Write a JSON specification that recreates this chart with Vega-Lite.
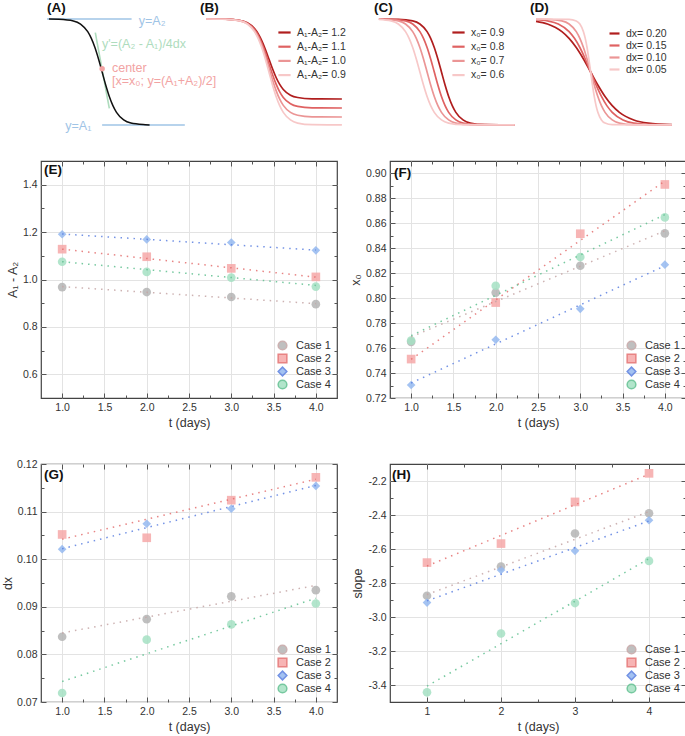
{
 "$schema": "https://vega.github.io/schema/vega-lite/v6.json",
 "padding": {"left": 0, "top": 0, "right": 0, "bottom": 0},
 "config": {
  "font": "Liberation Sans",
  "axis": {"labelFont": "Liberation Sans", "titleFont": "Liberation Sans", "labelFontSize": 10.5, "titleFontSize": 12.5, "titleFontWeight": "normal", "labelColor": "#333", "titleColor": "#333", "tickColor": "#555", "tickSize": -5, "labelPadding": 9, "domain": false, "gridColor": "#e3e3e3", "titlePadding": 4},
  "legend": {"labelFont": "Liberation Sans", "labelFontSize": 11, "labelColor": "#333", "padding": 0},
  "view": {"stroke": "#444", "strokeWidth": 1.2},
  "text": {"font": "Liberation Sans"}
 },
 "datasets": {
  "curves": [
   {"p":"A","s":"A","x":0.11,"y":1},{"p":"A","s":"A","x":0.25,"y":0.9975},{"p":"A","s":"A","x":0.45,"y":0.982},{"p":"A","s":"A","x":0.55,"y":0.9526},{"p":"A","s":"A","x":0.65,"y":0.8808},{"p":"A","s":"A","x":0.70,"y":0.8176},{"p":"A","s":"A","x":0.75,"y":0.7311},{"p":"A","s":"A","x":0.80,"y":0.6225},{"p":"A","s":"A","x":0.85,"y":0.5},{"p":"A","s":"A","x":0.90,"y":0.3775},{"p":"A","s":"A","x":0.95,"y":0.2689},{"p":"A","s":"A","x":1.0,"y":0.1824},{"p":"A","s":"A","x":1.05,"y":0.1192},{"p":"A","s":"A","x":1.15,"y":0.0474},{"p":"A","s":"A","x":1.25,"y":0.018},{"p":"A","s":"A","x":1.45,"y":0.0025},{"p":"A","s":"A","x":1.51,"y":0},

   {"p":"B","s":"1.2","x":0,"y":1},{"p":"B","s":"1.2","x":0.275,"y":0.998},{"p":"B","s":"1.2","x":0.475,"y":0.986},{"p":"B","s":"1.2","x":0.575,"y":0.964},{"p":"B","s":"1.2","x":0.675,"y":0.910},{"p":"B","s":"1.2","x":0.725,"y":0.862},{"p":"B","s":"1.2","x":0.775,"y":0.797},{"p":"B","s":"1.2","x":0.825,"y":0.715},{"p":"B","s":"1.2","x":0.875,"y":0.6225},{"p":"B","s":"1.2","x":0.925,"y":0.530},{"p":"B","s":"1.2","x":0.975,"y":0.448},{"p":"B","s":"1.2","x":1.025,"y":0.383},{"p":"B","s":"1.2","x":1.075,"y":0.335},{"p":"B","s":"1.2","x":1.175,"y":0.281},{"p":"B","s":"1.2","x":1.275,"y":0.259},{"p":"B","s":"1.2","x":1.475,"y":0.247},{"p":"B","s":"1.2","x":1.89,"y":0.245},
   {"p":"B","s":"1.1","x":0,"y":1},{"p":"B","s":"1.1","x":0.275,"y":0.998},{"p":"B","s":"1.1","x":0.475,"y":0.985},{"p":"B","s":"1.1","x":0.575,"y":0.960},{"p":"B","s":"1.1","x":0.675,"y":0.900},{"p":"B","s":"1.1","x":0.725,"y":0.847},{"p":"B","s":"1.1","x":0.775,"y":0.774},{"p":"B","s":"1.1","x":0.825,"y":0.683},{"p":"B","s":"1.1","x":0.875,"y":0.58},{"p":"B","s":"1.1","x":0.925,"y":0.477},{"p":"B","s":"1.1","x":0.975,"y":0.386},{"p":"B","s":"1.1","x":1.025,"y":0.313},{"p":"B","s":"1.1","x":1.075,"y":0.260},{"p":"B","s":"1.1","x":1.175,"y":0.200},{"p":"B","s":"1.1","x":1.275,"y":0.175},{"p":"B","s":"1.1","x":1.475,"y":0.162},{"p":"B","s":"1.1","x":1.89,"y":0.16},
   {"p":"B","s":"1.0","x":0,"y":1},{"p":"B","s":"1.0","x":0.275,"y":0.998},{"p":"B","s":"1.0","x":0.475,"y":0.983},{"p":"B","s":"1.0","x":0.575,"y":0.956},{"p":"B","s":"1.0","x":0.675,"y":0.890},{"p":"B","s":"1.0","x":0.725,"y":0.831},{"p":"B","s":"1.0","x":0.775,"y":0.751},{"p":"B","s":"1.0","x":0.825,"y":0.651},{"p":"B","s":"1.0","x":0.875,"y":0.5375},{"p":"B","s":"1.0","x":0.925,"y":0.424},{"p":"B","s":"1.0","x":0.975,"y":0.324},{"p":"B","s":"1.0","x":1.025,"y":0.244},{"p":"B","s":"1.0","x":1.075,"y":0.185},{"p":"B","s":"1.0","x":1.175,"y":0.119},{"p":"B","s":"1.0","x":1.275,"y":0.092},{"p":"B","s":"1.0","x":1.475,"y":0.077},{"p":"B","s":"1.0","x":1.89,"y":0.075},
   {"p":"B","s":"0.9","x":0,"y":1},{"p":"B","s":"0.9","x":0.275,"y":0.9975},{"p":"B","s":"0.9","x":0.475,"y":0.982},{"p":"B","s":"0.9","x":0.575,"y":0.9526},{"p":"B","s":"0.9","x":0.675,"y":0.8808},{"p":"B","s":"0.9","x":0.725,"y":0.8176},{"p":"B","s":"0.9","x":0.775,"y":0.7311},{"p":"B","s":"0.9","x":0.825,"y":0.6225},{"p":"B","s":"0.9","x":0.875,"y":0.5},{"p":"B","s":"0.9","x":0.925,"y":0.3775},{"p":"B","s":"0.9","x":0.975,"y":0.2689},{"p":"B","s":"0.9","x":1.025,"y":0.1824},{"p":"B","s":"0.9","x":1.075,"y":0.1192},{"p":"B","s":"0.9","x":1.175,"y":0.0474},{"p":"B","s":"0.9","x":1.275,"y":0.018},{"p":"B","s":"0.9","x":1.475,"y":0.0025},{"p":"B","s":"0.9","x":1.89,"y":0},

   {"p":"C","s":"0.9","x":0.03,"y":1},{"p":"C","s":"0.9","x":0.3,"y":0.9975},{"p":"C","s":"0.9","x":0.5,"y":0.982},{"p":"C","s":"0.9","x":0.6,"y":0.9526},{"p":"C","s":"0.9","x":0.7,"y":0.8808},{"p":"C","s":"0.9","x":0.75,"y":0.8176},{"p":"C","s":"0.9","x":0.8,"y":0.7311},{"p":"C","s":"0.9","x":0.85,"y":0.6225},{"p":"C","s":"0.9","x":0.9,"y":0.5},{"p":"C","s":"0.9","x":0.95,"y":0.3775},{"p":"C","s":"0.9","x":1.0,"y":0.2689},{"p":"C","s":"0.9","x":1.05,"y":0.1824},{"p":"C","s":"0.9","x":1.1,"y":0.1192},{"p":"C","s":"0.9","x":1.2,"y":0.0474},{"p":"C","s":"0.9","x":1.3,"y":0.018},{"p":"C","s":"0.9","x":1.5,"y":0.0025},{"p":"C","s":"0.9","x":1.92,"y":0},
   {"p":"C","s":"0.8","x":0.03,"y":1},{"p":"C","s":"0.8","x":0.2,"y":0.9975},{"p":"C","s":"0.8","x":0.4,"y":0.982},{"p":"C","s":"0.8","x":0.5,"y":0.9526},{"p":"C","s":"0.8","x":0.6,"y":0.8808},{"p":"C","s":"0.8","x":0.65,"y":0.8176},{"p":"C","s":"0.8","x":0.7,"y":0.7311},{"p":"C","s":"0.8","x":0.75,"y":0.6225},{"p":"C","s":"0.8","x":0.8,"y":0.5},{"p":"C","s":"0.8","x":0.85,"y":0.3775},{"p":"C","s":"0.8","x":0.9,"y":0.2689},{"p":"C","s":"0.8","x":0.95,"y":0.1824},{"p":"C","s":"0.8","x":1.0,"y":0.1192},{"p":"C","s":"0.8","x":1.1,"y":0.0474},{"p":"C","s":"0.8","x":1.2,"y":0.018},{"p":"C","s":"0.8","x":1.4,"y":0.0025},{"p":"C","s":"0.8","x":1.92,"y":0},
   {"p":"C","s":"0.7","x":0.03,"y":1},{"p":"C","s":"0.7","x":0.1,"y":0.9975},{"p":"C","s":"0.7","x":0.3,"y":0.982},{"p":"C","s":"0.7","x":0.4,"y":0.9526},{"p":"C","s":"0.7","x":0.5,"y":0.8808},{"p":"C","s":"0.7","x":0.55,"y":0.8176},{"p":"C","s":"0.7","x":0.6,"y":0.7311},{"p":"C","s":"0.7","x":0.65,"y":0.6225},{"p":"C","s":"0.7","x":0.7,"y":0.5},{"p":"C","s":"0.7","x":0.75,"y":0.3775},{"p":"C","s":"0.7","x":0.8,"y":0.2689},{"p":"C","s":"0.7","x":0.85,"y":0.1824},{"p":"C","s":"0.7","x":0.9,"y":0.1192},{"p":"C","s":"0.7","x":1.0,"y":0.0474},{"p":"C","s":"0.7","x":1.1,"y":0.018},{"p":"C","s":"0.7","x":1.3,"y":0.0025},{"p":"C","s":"0.7","x":1.92,"y":0},
   {"p":"C","s":"0.6","x":0.03,"y":0.997},{"p":"C","s":"0.6","x":0.2,"y":0.982},{"p":"C","s":"0.6","x":0.3,"y":0.9526},{"p":"C","s":"0.6","x":0.4,"y":0.8808},{"p":"C","s":"0.6","x":0.45,"y":0.8176},{"p":"C","s":"0.6","x":0.5,"y":0.7311},{"p":"C","s":"0.6","x":0.55,"y":0.6225},{"p":"C","s":"0.6","x":0.6,"y":0.5},{"p":"C","s":"0.6","x":0.65,"y":0.3775},{"p":"C","s":"0.6","x":0.7,"y":0.2689},{"p":"C","s":"0.6","x":0.75,"y":0.1824},{"p":"C","s":"0.6","x":0.8,"y":0.1192},{"p":"C","s":"0.6","x":0.9,"y":0.0474},{"p":"C","s":"0.6","x":1.0,"y":0.018},{"p":"C","s":"0.6","x":1.2,"y":0.0025},{"p":"C","s":"0.6","x":1.92,"y":0},

   {"p":"D","s":"0.20","x":0,"y":0.978},{"p":"D","s":"0.20","x":0.16,"y":0.9526},{"p":"D","s":"0.20","x":0.36,"y":0.8808},{"p":"D","s":"0.20","x":0.46,"y":0.8176},{"p":"D","s":"0.20","x":0.56,"y":0.7311},{"p":"D","s":"0.20","x":0.66,"y":0.6225},{"p":"D","s":"0.20","x":0.76,"y":0.5},{"p":"D","s":"0.20","x":0.86,"y":0.3775},{"p":"D","s":"0.20","x":0.96,"y":0.2689},{"p":"D","s":"0.20","x":1.06,"y":0.1824},{"p":"D","s":"0.20","x":1.16,"y":0.1192},{"p":"D","s":"0.20","x":1.36,"y":0.0474},{"p":"D","s":"0.20","x":1.56,"y":0.018},{"p":"D","s":"0.20","x":1.89,"y":0.0035},
   {"p":"D","s":"0.15","x":0,"y":0.9938},{"p":"D","s":"0.15","x":0.16,"y":0.982},{"p":"D","s":"0.15","x":0.31,"y":0.9526},{"p":"D","s":"0.15","x":0.46,"y":0.8808},{"p":"D","s":"0.15","x":0.535,"y":0.8176},{"p":"D","s":"0.15","x":0.61,"y":0.7311},{"p":"D","s":"0.15","x":0.685,"y":0.6225},{"p":"D","s":"0.15","x":0.76,"y":0.5},{"p":"D","s":"0.15","x":0.835,"y":0.3775},{"p":"D","s":"0.15","x":0.91,"y":0.2689},{"p":"D","s":"0.15","x":0.985,"y":0.1824},{"p":"D","s":"0.15","x":1.06,"y":0.1192},{"p":"D","s":"0.15","x":1.21,"y":0.0474},{"p":"D","s":"0.15","x":1.36,"y":0.018},{"p":"D","s":"0.15","x":1.66,"y":0.0025},{"p":"D","s":"0.15","x":1.89,"y":0.0006},
   {"p":"D","s":"0.10","x":0,"y":1},{"p":"D","s":"0.10","x":0.16,"y":0.9975},{"p":"D","s":"0.10","x":0.36,"y":0.982},{"p":"D","s":"0.10","x":0.46,"y":0.9526},{"p":"D","s":"0.10","x":0.56,"y":0.8808},{"p":"D","s":"0.10","x":0.61,"y":0.8176},{"p":"D","s":"0.10","x":0.66,"y":0.7311},{"p":"D","s":"0.10","x":0.71,"y":0.6225},{"p":"D","s":"0.10","x":0.76,"y":0.5},{"p":"D","s":"0.10","x":0.81,"y":0.3775},{"p":"D","s":"0.10","x":0.86,"y":0.2689},{"p":"D","s":"0.10","x":0.91,"y":0.1824},{"p":"D","s":"0.10","x":0.96,"y":0.1192},{"p":"D","s":"0.10","x":1.06,"y":0.0474},{"p":"D","s":"0.10","x":1.16,"y":0.018},{"p":"D","s":"0.10","x":1.36,"y":0.0025},{"p":"D","s":"0.10","x":1.89,"y":0},
   {"p":"D","s":"0.05","x":0,"y":1},{"p":"D","s":"0.05","x":0.46,"y":0.9975},{"p":"D","s":"0.05","x":0.56,"y":0.982},{"p":"D","s":"0.05","x":0.61,"y":0.9526},{"p":"D","s":"0.05","x":0.66,"y":0.8808},{"p":"D","s":"0.05","x":0.685,"y":0.8176},{"p":"D","s":"0.05","x":0.71,"y":0.7311},{"p":"D","s":"0.05","x":0.735,"y":0.6225},{"p":"D","s":"0.05","x":0.76,"y":0.5},{"p":"D","s":"0.05","x":0.785,"y":0.3775},{"p":"D","s":"0.05","x":0.81,"y":0.2689},{"p":"D","s":"0.05","x":0.835,"y":0.1824},{"p":"D","s":"0.05","x":0.86,"y":0.1192},{"p":"D","s":"0.05","x":0.91,"y":0.0474},{"p":"D","s":"0.05","x":0.96,"y":0.018},{"p":"D","s":"0.05","x":1.06,"y":0.0025},{"p":"D","s":"0.05","x":1.89,"y":0}
  ],
  "aLines": [
   {"g":"blue","k":"top","x":0.083,"y":1},{"g":"blue","k":"top","x":1.26,"y":1},
   {"g":"blue","k":"bot","x":0.85,"y":0},{"g":"blue","k":"bot","x":2.0,"y":0},
   {"g":"green","k":"tan","x":0.755,"y":0.871},{"g":"green","k":"tan","x":0.95,"y":0.157}
  ],
  "aTexts": [
   {"g":"blue","x":1.36,"y":0.981,"t":"y=A₂"},
   {"g":"blue","x":0.338,"y":-0.01,"t":"y=A₁"},
   {"g":"green","x":0.848,"y":0.764,"t":"y'=(A₂ - A₁)/4dx"},
   {"g":"pink","x":0.987,"y":0.538,"t":"center"},
   {"g":"pink","x":0.987,"y":0.415,"t":"[x=x₀; y=(A₁+A₂)/2]"}
  ],
  "pts": [
   {"p":"E","t":1,"v":0.968,"c":"Case 1"},{"p":"E","t":2,"v":0.947,"c":"Case 1"},{"p":"E","t":3,"v":0.926,"c":"Case 1"},{"p":"E","t":4,"v":0.896,"c":"Case 1"},
   {"p":"E","t":1,"v":1.128,"c":"Case 2"},{"p":"E","t":2,"v":1.096,"c":"Case 2"},{"p":"E","t":3,"v":1.047,"c":"Case 2"},{"p":"E","t":4,"v":1.011,"c":"Case 2"},
   {"p":"E","t":1,"v":1.191,"c":"Case 3"},{"p":"E","t":2,"v":1.169,"c":"Case 3"},{"p":"E","t":3,"v":1.156,"c":"Case 3"},{"p":"E","t":4,"v":1.123,"c":"Case 3"},
   {"p":"E","t":1,"v":1.075,"c":"Case 4"},{"p":"E","t":2,"v":1.032,"c":"Case 4"},{"p":"E","t":3,"v":1.008,"c":"Case 4"},{"p":"E","t":4,"v":0.970,"c":"Case 4"},
   {"p":"F","t":1,"v":0.765,"c":"Case 1"},{"p":"F","t":2,"v":0.8045,"c":"Case 1"},{"p":"F","t":3,"v":0.826,"c":"Case 1"},{"p":"F","t":4,"v":0.852,"c":"Case 1"},
   {"p":"F","t":1,"v":0.7512,"c":"Case 2"},{"p":"F","t":2,"v":0.7965,"c":"Case 2"},{"p":"F","t":3,"v":0.8517,"c":"Case 2"},{"p":"F","t":4,"v":0.8912,"c":"Case 2"},
   {"p":"F","t":1,"v":0.7304,"c":"Case 3"},{"p":"F","t":2,"v":0.7667,"c":"Case 3"},{"p":"F","t":3,"v":0.7915,"c":"Case 3"},{"p":"F","t":4,"v":0.8269,"c":"Case 3"},
   {"p":"F","t":1,"v":0.766,"c":"Case 4"},{"p":"F","t":2,"v":0.810,"c":"Case 4"},{"p":"F","t":3,"v":0.833,"c":"Case 4"},{"p":"F","t":4,"v":0.8648,"c":"Case 4"},
   {"p":"G","t":1,"v":0.0837,"c":"Case 1"},{"p":"G","t":2,"v":0.0874,"c":"Case 1"},{"p":"G","t":3,"v":0.0922,"c":"Case 1"},{"p":"G","t":4,"v":0.0935,"c":"Case 1"},
   {"p":"G","t":1,"v":0.1052,"c":"Case 2"},{"p":"G","t":2,"v":0.1045,"c":"Case 2"},{"p":"G","t":3,"v":0.1124,"c":"Case 2"},{"p":"G","t":4,"v":0.1172,"c":"Case 2"},
   {"p":"G","t":1,"v":0.1021,"c":"Case 3"},{"p":"G","t":2,"v":0.10745,"c":"Case 3"},{"p":"G","t":3,"v":0.1106,"c":"Case 3"},{"p":"G","t":4,"v":0.1154,"c":"Case 3"},
   {"p":"G","t":1,"v":0.0719,"c":"Case 4"},{"p":"G","t":2,"v":0.0831,"c":"Case 4"},{"p":"G","t":3,"v":0.0863,"c":"Case 4"},{"p":"G","t":4,"v":0.0907,"c":"Case 4"},
   {"p":"H","t":1,"v":-2.875,"c":"Case 1"},{"p":"H","t":2,"v":-2.703,"c":"Case 1"},{"p":"H","t":3,"v":-2.509,"c":"Case 1"},{"p":"H","t":4,"v":-2.39,"c":"Case 1"},
   {"p":"H","t":1,"v":-2.68,"c":"Case 2"},{"p":"H","t":2,"v":-2.568,"c":"Case 2"},{"p":"H","t":3,"v":-2.323,"c":"Case 2"},{"p":"H","t":4,"v":-2.155,"c":"Case 2"},
   {"p":"H","t":1,"v":-2.915,"c":"Case 3"},{"p":"H","t":2,"v":-2.723,"c":"Case 3"},{"p":"H","t":3,"v":-2.611,"c":"Case 3"},{"p":"H","t":4,"v":-2.431,"c":"Case 3"},
   {"p":"H","t":1,"v":-3.443,"c":"Case 4"},{"p":"H","t":2,"v":-3.097,"c":"Case 4"},{"p":"H","t":3,"v":-2.918,"c":"Case 4"},{"p":"H","t":4,"v":-2.67,"c":"Case 4"}
  ],
  "fits": [
   {"p":"E","t":1,"v":0.970,"c":"Case 1"},{"p":"E","t":4,"v":0.898,"c":"Case 1"},
   {"p":"E","t":1,"v":1.128,"c":"Case 2"},{"p":"E","t":4,"v":1.010,"c":"Case 2"},
   {"p":"E","t":1,"v":1.192,"c":"Case 3"},{"p":"E","t":4,"v":1.124,"c":"Case 3"},
   {"p":"E","t":1,"v":1.075,"c":"Case 4"},{"p":"E","t":4,"v":0.975,"c":"Case 4"},
   {"p":"F","t":1,"v":0.769,"c":"Case 1"},{"p":"F","t":4,"v":0.854,"c":"Case 1"},
   {"p":"F","t":1,"v":0.751,"c":"Case 2"},{"p":"F","t":4,"v":0.894,"c":"Case 2"},
   {"p":"F","t":1,"v":0.732,"c":"Case 3"},{"p":"F","t":4,"v":0.826,"c":"Case 3"},
   {"p":"F","t":1,"v":0.770,"c":"Case 4"},{"p":"F","t":4,"v":0.867,"c":"Case 4"},
   {"p":"G","t":1,"v":0.0845,"c":"Case 1"},{"p":"G","t":4,"v":0.0945,"c":"Case 1"},
   {"p":"G","t":1,"v":0.1042,"c":"Case 2"},{"p":"G","t":4,"v":0.1168,"c":"Case 2"},
   {"p":"G","t":1,"v":0.1022,"c":"Case 3"},{"p":"G","t":4,"v":0.1155,"c":"Case 3"},
   {"p":"G","t":1,"v":0.0743,"c":"Case 4"},{"p":"G","t":4,"v":0.0918,"c":"Case 4"},
   {"p":"H","t":1,"v":-2.868,"c":"Case 1"},{"p":"H","t":4,"v":-2.38,"c":"Case 1"},
   {"p":"H","t":1,"v":-2.70,"c":"Case 2"},{"p":"H","t":4,"v":-2.16,"c":"Case 2"},
   {"p":"H","t":1,"v":-2.905,"c":"Case 3"},{"p":"H","t":4,"v":-2.435,"c":"Case 3"},
   {"p":"H","t":1,"v":-3.407,"c":"Case 4"},{"p":"H","t":4,"v":-2.657,"c":"Case 4"}
  ]
 },
 "spacing": 26,
 "resolve": {"scale": {"x": "independent", "y": "independent", "color": "independent", "shape": "independent", "stroke": "independent"}, "legend": {"color": "independent", "shape": "independent"}},
 "vconcat": [
  {
   "hconcat": [
    {
     "width": 151, "height": 130, "view": {"stroke": null},
     "layer": [
      {"data": {"name": "aLines"}, "mark": {"type": "line", "strokeWidth": 1.6},
       "encoding": {"x": {"field": "x", "type": "quantitative", "scale": {"domain": [0, 2.1], "nice": false, "zero": false}, "axis": null},
                    "y": {"field": "y", "type": "quantitative", "scale": {"domain": [-0.057, 1.17], "nice": false, "zero": false}, "axis": null},
                    "color": {"field": "g", "type": "nominal", "scale": {"domain": ["blue", "green", "pink"], "range": ["#9fc4e6", "#aedcbd", "#f2a3a3"]}, "legend": null},
                    "detail": {"field": "k"}}},
      {"data": {"name": "curves"}, "transform": [{"filter": "datum.p === 'A'"}], "mark": {"type": "line", "interpolate": "monotone", "strokeWidth": 1.5, "color": "#111"},
       "encoding": {"x": {"field": "x", "type": "quantitative"}, "y": {"field": "y", "type": "quantitative"}}},
      {"data": {"values": [{"g": "pink", "x": 0.85, "y": 0.53}]}, "mark": {"type": "point", "filled": true, "size": 30, "opacity": 1},
       "encoding": {"x": {"field": "x", "type": "quantitative"}, "y": {"field": "y", "type": "quantitative"}, "color": {"field": "g", "type": "nominal", "legend": null}}},
      {"data": {"name": "aTexts"}, "mark": {"type": "text", "align": "left", "baseline": "middle", "fontSize": 12.5},
       "encoding": {"x": {"field": "x", "type": "quantitative"}, "y": {"field": "y", "type": "quantitative"}, "text": {"field": "t"}, "color": {"field": "g", "type": "nominal", "legend": null}}},
      {"data": {"values": [{"lab": "(A)", "x": 0.083, "y": 1.104}]}, "mark": {"type": "text", "align": "left", "baseline": "middle", "fontSize": 13.5, "fontWeight": "bold", "color": "#111"},
       "encoding": {"x": {"field": "x", "type": "quantitative"}, "y": {"field": "y", "type": "quantitative"}, "text": {"field": "lab"}}}
     ]
    },
    {
     "width": 151, "height": 130, "view": {"stroke": null},
     "layer": [
      {"data": {"name": "curves"}, "transform": [{"filter": "datum.p === 'B'"}], "mark": {"type": "line", "interpolate": "monotone", "strokeWidth": 1.7},
       "encoding": {"x": {"field": "x", "type": "quantitative", "scale": {"domain": [0, 2.1], "nice": false, "zero": false}, "axis": null},
                    "y": {"field": "y", "type": "quantitative", "scale": {"domain": [-0.057, 1.17], "nice": false, "zero": false}, "axis": null},
                    "color": {"field": "s", "type": "nominal", "scale": {"domain": ["1.2", "1.1", "1.0", "0.9"], "range": ["#b01e1e", "#df6262", "#eb9595", "#f7c8c8"]},
                              "legend": {"title": null, "orient": "none", "legendX": 71, "legendY": 24, "symbolType": "stroke", "symbolStrokeWidth": 2.2, "symbolSize": 150, "labelFontSize": 10.5, "rowPadding": 1.2, "labelOffset": 5, "labelExpr": "'A₁-A₂= ' + datum.label"}}}},
      {"data": {"values": [{"lab": "(B)", "x": -0.083, "y": 1.104}]}, "mark": {"type": "text", "align": "left", "baseline": "middle", "fontSize": 13.5, "fontWeight": "bold", "color": "#111"},
       "encoding": {"x": {"field": "x", "type": "quantitative"}, "y": {"field": "y", "type": "quantitative"}, "text": {"field": "lab"}}}
     ]
    },
    {
     "width": 151, "height": 130, "view": {"stroke": null},
     "layer": [
      {"data": {"name": "curves"}, "transform": [{"filter": "datum.p === 'C'"}], "mark": {"type": "line", "interpolate": "monotone", "strokeWidth": 1.7},
       "encoding": {"x": {"field": "x", "type": "quantitative", "scale": {"domain": [-0.08, 2.02], "nice": false, "zero": false}, "axis": null},
                    "y": {"field": "y", "type": "quantitative", "scale": {"domain": [-0.057, 1.17], "nice": false, "zero": false}, "axis": null},
                    "color": {"field": "s", "type": "nominal", "scale": {"domain": ["0.9", "0.8", "0.7", "0.6"], "range": ["#b01e1e", "#df6262", "#eb9595", "#f7c8c8"]},
                              "legend": {"title": null, "orient": "none", "legendX": 80, "legendY": 24, "symbolType": "stroke", "symbolStrokeWidth": 2.2, "symbolSize": 150, "labelFontSize": 10.5, "rowPadding": 1.2, "labelOffset": 5, "labelExpr": "'x₀= ' + datum.label"}}}},
      {"data": {"values": [{"lab": "(C)", "x": -0.038, "y": 1.104}]}, "mark": {"type": "text", "align": "left", "baseline": "middle", "fontSize": 13.5, "fontWeight": "bold", "color": "#111"},
       "encoding": {"x": {"field": "x", "type": "quantitative"}, "y": {"field": "y", "type": "quantitative"}, "text": {"field": "lab"}}}
     ]
    },
    {
     "width": 151, "height": 130, "view": {"stroke": null},
     "layer": [
      {"data": {"name": "curves"}, "transform": [{"filter": "datum.p === 'D'"}], "mark": {"type": "line", "interpolate": "monotone", "strokeWidth": 1.7},
       "encoding": {"x": {"field": "x", "type": "quantitative", "scale": {"domain": [0, 2.1], "nice": false, "zero": false}, "axis": null},
                    "y": {"field": "y", "type": "quantitative", "scale": {"domain": [-0.057, 1.17], "nice": false, "zero": false}, "axis": null},
                    "color": {"field": "s", "type": "nominal", "scale": {"domain": ["0.20", "0.15", "0.10", "0.05"], "range": ["#b01e1e", "#df6262", "#eb9595", "#f7c8c8"]},
                              "legend": {"title": null, "orient": "none", "legendX": 72, "legendY": 26, "symbolType": "stroke", "symbolStrokeWidth": 2.2, "symbolSize": 100, "labelFontSize": 10.5, "rowPadding": -3.5, "labelOffset": 5, "labelExpr": "'dx= ' + datum.label"}}}},
      {"data": {"values": [{"lab": "(D)", "x": -0.083, "y": 1.104}]}, "mark": {"type": "text", "align": "left", "baseline": "middle", "fontSize": 13.5, "fontWeight": "bold", "color": "#111"},
       "encoding": {"x": {"field": "x", "type": "quantitative"}, "y": {"field": "y", "type": "quantitative"}, "text": {"field": "lab"}}}
     ]
    }
   ],
   "spacing": 14,
   "bounds": "flush",
   "resolve": {"scale": {"x": "independent", "y": "independent", "color": "independent"}, "legend": {"color": "independent"}}
  },
  {
   "spacing": 28,
   "resolve": {"scale": {"x": "independent", "y": "independent", "color": "independent", "shape": "independent", "stroke": "independent"}, "legend": {"color": "independent", "shape": "independent"}},
   "vconcat": [
    {
     "hconcat": [
      {
       "width": 296, "height": 237,
       "resolve": {"axis": {"x": "independent", "y": "independent"}},
       "layer": [
        {"data": {"name": "pts"}, "transform": [{"filter": "datum.p === 'E'"}],
         "mark": {"type": "point", "filled": true, "opacity": 0.85, "size": 75},
         "encoding": {
          "x": {"field": "t", "type": "quantitative", "scale": {"domain": [0.75, 4.25], "nice": false, "zero": false}, "axis": {"orient": "bottom", "values": [1, 1.5, 2, 2.5, 3, 3.5, 4], "format": ".1f", "title": "t (days)", "grid": true}},
          "y": {"field": "v", "type": "quantitative", "scale": {"domain": [0.5, 1.5], "nice": false, "zero": false}, "axis": {"orient": "left", "values": [0.6, 0.8, 1.0, 1.2, 1.4], "format": ".1f", "title": "A₁ - A₂", "grid": true, "titlePadding": 3}},
          "color": {"field": "c", "type": "nominal", "scale": {"domain": ["Case 1", "Case 2", "Case 3", "Case 4"], "range": ["#b4b4b4", "#f6a8a8", "#94b8f0", "#a5e1c3"]}, "legend": {"title": null, "orient": "bottom-right", "offset": 6, "symbolSize": 75, "labelFontSize": 11, "rowPadding": -2, "labelOffset": 8}},
          "shape": {"field": "c", "type": "nominal", "scale": {"domain": ["Case 1", "Case 2", "Case 3", "Case 4"], "range": ["circle", "square", "diamond", "circle"]}, "legend": {"title": null, "orient": "bottom-right", "offset": 6, "symbolSize": 75, "labelFontSize": 11, "rowPadding": -2, "labelOffset": 8}}
         }},
        {"data": {"name": "fits"}, "transform": [{"filter": "datum.p === 'E'"}],
         "mark": {"type": "line", "strokeDash": [1.5, 5], "strokeWidth": 1.5, "opacity": 0.85},
         "encoding": {
          "x": {"field": "t", "type": "quantitative", "axis": {"orient": "top", "values": [1, 1.5, 2, 2.5, 3, 3.5, 4], "labels": false, "title": null, "grid": false}},
          "y": {"field": "v", "type": "quantitative", "axis": {"orient": "right", "values": [0.6, 0.8, 1.0, 1.2, 1.4], "labels": false, "title": null, "grid": false}},
          "stroke": {"field": "c", "type": "nominal", "scale": {"domain": ["Case 1", "Case 2", "Case 3", "Case 4"], "range": ["#c4a4a4", "#e46e6e", "#5a7fe0", "#5fbf8f"]}, "legend": null}
         }},
        {"data": {"values": [{"lab": "(E)", "t": 0.785, "v": 1.462}]},
         "mark": {"type": "text", "align": "left", "baseline": "middle", "fontSize": 13.5, "fontWeight": "bold", "color": "#111"},
         "encoding": {
          "x": {"field": "t", "type": "quantitative", "axis": {"orient": "bottom", "values": [1.25, 1.75, 2.25, 2.75, 3.25, 3.75], "labels": false, "title": null, "grid": false, "tickSize": -3}},
          "y": {"field": "v", "type": "quantitative", "axis": {"orient": "left", "values": [0.7, 0.9, 1.1, 1.3], "labels": false, "title": null, "grid": false, "tickSize": -3}},
          "text": {"field": "lab"}
         }},
        {"data": {"name": "fits"}, "transform": [{"filter": "datum.p === 'E'"}],
         "mark": {"type": "line", "opacity": 0},
         "encoding": {
          "x": {"field": "t", "type": "quantitative", "axis": {"orient": "top", "values": [1.25, 1.75, 2.25, 2.75, 3.25, 3.75], "labels": false, "title": null, "grid": false, "tickSize": -3}},
          "y": {"field": "v", "type": "quantitative", "axis": {"orient": "right", "values": [0.7, 0.9, 1.1, 1.3], "labels": false, "title": null, "grid": false, "tickSize": -3}},
          "detail": {"field": "c"}
         }}
       ]
      },
      {
       "width": 296, "height": 237,
       "resolve": {"axis": {"x": "independent", "y": "independent"}},
       "layer": [
        {"data": {"name": "pts"}, "transform": [{"filter": "datum.p === 'F'"}],
         "mark": {"type": "point", "filled": true, "opacity": 0.85, "size": 75},
         "encoding": {
          "x": {"field": "t", "type": "quantitative", "scale": {"domain": [0.75, 4.25], "nice": false, "zero": false}, "axis": {"orient": "bottom", "values": [1, 1.5, 2, 2.5, 3, 3.5, 4], "format": ".1f", "title": "t (days)", "grid": true}},
          "y": {"field": "v", "type": "quantitative", "scale": {"domain": [0.72, 0.91], "nice": false, "zero": false}, "axis": {"orient": "left", "values": [0.72, 0.74, 0.76, 0.78, 0.80, 0.82, 0.84, 0.86, 0.88, 0.90], "format": ".2f", "title": "x₀", "grid": true, "titlePadding": 3}},
          "color": {"field": "c", "type": "nominal", "scale": {"domain": ["Case 1", "Case 2", "Case 3", "Case 4"], "range": ["#b4b4b4", "#f6a8a8", "#94b8f0", "#a5e1c3"]}, "legend": {"title": null, "orient": "bottom-right", "offset": 6, "symbolSize": 75, "labelFontSize": 11, "rowPadding": -2, "labelOffset": 8}},
          "shape": {"field": "c", "type": "nominal", "scale": {"domain": ["Case 1", "Case 2", "Case 3", "Case 4"], "range": ["circle", "square", "diamond", "circle"]}, "legend": {"title": null, "orient": "bottom-right", "offset": 6, "symbolSize": 75, "labelFontSize": 11, "rowPadding": -2, "labelOffset": 8}}
         }},
        {"data": {"name": "fits"}, "transform": [{"filter": "datum.p === 'F'"}],
         "mark": {"type": "line", "strokeDash": [1.5, 5], "strokeWidth": 1.5, "opacity": 0.85},
         "encoding": {
          "x": {"field": "t", "type": "quantitative", "axis": {"orient": "top", "values": [1, 1.5, 2, 2.5, 3, 3.5, 4], "labels": false, "title": null, "grid": false}},
          "y": {"field": "v", "type": "quantitative", "axis": {"orient": "right", "values": [0.72, 0.74, 0.76, 0.78, 0.80, 0.82, 0.84, 0.86, 0.88, 0.90], "labels": false, "title": null, "grid": false}},
          "stroke": {"field": "c", "type": "nominal", "scale": {"domain": ["Case 1", "Case 2", "Case 3", "Case 4"], "range": ["#c4a4a4", "#e46e6e", "#5a7fe0", "#5fbf8f"]}, "legend": null}
         }},
        {"data": {"values": [{"lab": "(F)", "t": 0.797, "v": 0.9004}]},
         "mark": {"type": "text", "align": "left", "baseline": "middle", "fontSize": 13.5, "fontWeight": "bold", "color": "#111"},
         "encoding": {
          "x": {"field": "t", "type": "quantitative", "axis": {"orient": "bottom", "values": [1.25, 1.75, 2.25, 2.75, 3.25, 3.75], "labels": false, "title": null, "grid": false, "tickSize": -3}},
          "y": {"field": "v", "type": "quantitative", "axis": {"orient": "left", "values": [0.73, 0.75, 0.77, 0.79, 0.81, 0.83, 0.85, 0.87, 0.89], "labels": false, "title": null, "grid": false, "tickSize": -3}},
          "text": {"field": "lab"}
         }},
        {"data": {"name": "fits"}, "transform": [{"filter": "datum.p === 'F'"}],
         "mark": {"type": "line", "opacity": 0},
         "encoding": {
          "x": {"field": "t", "type": "quantitative", "axis": {"orient": "top", "values": [1.25, 1.75, 2.25, 2.75, 3.25, 3.75], "labels": false, "title": null, "grid": false, "tickSize": -3}},
          "y": {"field": "v", "type": "quantitative", "axis": {"orient": "right", "values": [0.73, 0.75, 0.77, 0.79, 0.81, 0.83, 0.85, 0.87, 0.89], "labels": false, "title": null, "grid": false, "tickSize": -3}},
          "detail": {"field": "c"}
         }}
       ]
      }
     ],
     "spacing": 53,
     "bounds": "flush",
     "resolve": {"scale": {"x": "independent", "y": "independent", "color": "independent", "shape": "independent", "stroke": "independent"}, "legend": {"color": "independent", "shape": "independent"}}
    },
    {
     "hconcat": [
      {
       "width": 296, "height": 238,
       "resolve": {"axis": {"x": "independent", "y": "independent"}},
       "layer": [
        {"data": {"name": "pts"}, "transform": [{"filter": "datum.p === 'G'"}],
         "mark": {"type": "point", "filled": true, "opacity": 0.85, "size": 75},
         "encoding": {
          "x": {"field": "t", "type": "quantitative", "scale": {"domain": [0.75, 4.25], "nice": false, "zero": false}, "axis": {"orient": "bottom", "values": [1, 1.5, 2, 2.5, 3, 3.5, 4], "format": ".1f", "title": "t (days)", "grid": true}},
          "y": {"field": "v", "type": "quantitative", "scale": {"domain": [0.07, 0.12], "nice": false, "zero": false}, "axis": {"orient": "left", "values": [0.07, 0.08, 0.09, 0.10, 0.11, 0.12], "format": ".2f", "title": "dx", "grid": true, "titlePadding": 2}},
          "color": {"field": "c", "type": "nominal", "scale": {"domain": ["Case 1", "Case 2", "Case 3", "Case 4"], "range": ["#b4b4b4", "#f6a8a8", "#94b8f0", "#a5e1c3"]}, "legend": {"title": null, "orient": "bottom-right", "offset": 6, "symbolSize": 75, "labelFontSize": 11, "rowPadding": -2, "labelOffset": 8}},
          "shape": {"field": "c", "type": "nominal", "scale": {"domain": ["Case 1", "Case 2", "Case 3", "Case 4"], "range": ["circle", "square", "diamond", "circle"]}, "legend": {"title": null, "orient": "bottom-right", "offset": 6, "symbolSize": 75, "labelFontSize": 11, "rowPadding": -2, "labelOffset": 8}}
         }},
        {"data": {"name": "fits"}, "transform": [{"filter": "datum.p === 'G'"}],
         "mark": {"type": "line", "strokeDash": [1.5, 5], "strokeWidth": 1.5, "opacity": 0.85},
         "encoding": {
          "x": {"field": "t", "type": "quantitative", "axis": {"orient": "top", "values": [1, 1.5, 2, 2.5, 3, 3.5, 4], "labels": false, "title": null, "grid": false}},
          "y": {"field": "v", "type": "quantitative", "axis": {"orient": "right", "values": [0.07, 0.08, 0.09, 0.10, 0.11, 0.12], "labels": false, "title": null, "grid": false}},
          "stroke": {"field": "c", "type": "nominal", "scale": {"domain": ["Case 1", "Case 2", "Case 3", "Case 4"], "range": ["#c4a4a4", "#e46e6e", "#5a7fe0", "#5fbf8f"]}, "legend": null}
         }},
        {"data": {"values": [{"lab": "(G)", "t": 0.785, "v": 0.1177}]},
         "mark": {"type": "text", "align": "left", "baseline": "middle", "fontSize": 13.5, "fontWeight": "bold", "color": "#111"},
         "encoding": {
          "x": {"field": "t", "type": "quantitative", "axis": {"orient": "bottom", "values": [1.25, 1.75, 2.25, 2.75, 3.25, 3.75], "labels": false, "title": null, "grid": false, "tickSize": -3}},
          "y": {"field": "v", "type": "quantitative", "axis": {"orient": "left", "values": [0.075, 0.085, 0.095, 0.105, 0.115], "labels": false, "title": null, "grid": false, "tickSize": -3}},
          "text": {"field": "lab"}
         }},
        {"data": {"name": "fits"}, "transform": [{"filter": "datum.p === 'G'"}],
         "mark": {"type": "line", "opacity": 0},
         "encoding": {
          "x": {"field": "t", "type": "quantitative", "axis": {"orient": "top", "values": [1.25, 1.75, 2.25, 2.75, 3.25, 3.75], "labels": false, "title": null, "grid": false, "tickSize": -3}},
          "y": {"field": "v", "type": "quantitative", "axis": {"orient": "right", "values": [0.075, 0.085, 0.095, 0.105, 0.115], "labels": false, "title": null, "grid": false, "tickSize": -3}},
          "detail": {"field": "c"}
         }}
       ]
      },
      {
       "width": 296, "height": 238,
       "resolve": {"axis": {"x": "independent", "y": "independent"}},
       "layer": [
        {"data": {"name": "pts"}, "transform": [{"filter": "datum.p === 'H'"}],
         "mark": {"type": "point", "filled": true, "opacity": 0.85, "size": 75},
         "encoding": {
          "x": {"field": "t", "type": "quantitative", "scale": {"domain": [0.5, 4.5], "nice": false, "zero": false}, "axis": {"orient": "bottom", "values": [1, 2, 3, 4], "format": "d", "title": "t (days)", "grid": true}},
          "y": {"field": "v", "type": "quantitative", "scale": {"domain": [-3.5, -2.1], "nice": false, "zero": false}, "axis": {"orient": "left", "values": [-3.4, -3.2, -3.0, -2.8, -2.6, -2.4, -2.2], "labelExpr": "replace(format(datum.value, '.1f'), '−', '-')", "title": "slope", "grid": true, "titlePadding": 3}},
          "color": {"field": "c", "type": "nominal", "scale": {"domain": ["Case 1", "Case 2", "Case 3", "Case 4"], "range": ["#b4b4b4", "#f6a8a8", "#94b8f0", "#a5e1c3"]}, "legend": {"title": null, "orient": "bottom-right", "offset": 6, "symbolSize": 75, "labelFontSize": 11, "rowPadding": -2, "labelOffset": 8}},
          "shape": {"field": "c", "type": "nominal", "scale": {"domain": ["Case 1", "Case 2", "Case 3", "Case 4"], "range": ["circle", "square", "diamond", "circle"]}, "legend": {"title": null, "orient": "bottom-right", "offset": 6, "symbolSize": 75, "labelFontSize": 11, "rowPadding": -2, "labelOffset": 8}}
         }},
        {"data": {"name": "fits"}, "transform": [{"filter": "datum.p === 'H'"}],
         "mark": {"type": "line", "strokeDash": [1.5, 5], "strokeWidth": 1.5, "opacity": 0.85},
         "encoding": {
          "x": {"field": "t", "type": "quantitative", "axis": {"orient": "top", "values": [1, 2, 3, 4], "labels": false, "title": null, "grid": false}},
          "y": {"field": "v", "type": "quantitative", "axis": {"orient": "right", "values": [-3.4, -3.2, -3.0, -2.8, -2.6, -2.4, -2.2], "labels": false, "title": null, "grid": false}},
          "stroke": {"field": "c", "type": "nominal", "scale": {"domain": ["Case 1", "Case 2", "Case 3", "Case 4"], "range": ["#c4a4a4", "#e46e6e", "#5a7fe0", "#5fbf8f"]}, "legend": null}
         }},
        {"data": {"values": [{"lab": "(H)", "t": 0.527, "v": -2.165}]},
         "mark": {"type": "text", "align": "left", "baseline": "middle", "fontSize": 13.5, "fontWeight": "bold", "color": "#111"},
         "encoding": {
          "x": {"field": "t", "type": "quantitative", "axis": {"orient": "bottom", "values": [1.5, 2.5, 3.5], "labels": false, "title": null, "grid": false, "tickSize": -3}},
          "y": {"field": "v", "type": "quantitative", "axis": {"orient": "left", "values": [-3.3, -3.1, -2.9, -2.7, -2.5, -2.3], "labels": false, "title": null, "grid": false, "tickSize": -3}},
          "text": {"field": "lab"}
         }},
        {"data": {"name": "fits"}, "transform": [{"filter": "datum.p === 'H'"}],
         "mark": {"type": "line", "opacity": 0},
         "encoding": {
          "x": {"field": "t", "type": "quantitative", "axis": {"orient": "top", "values": [1.5, 2.5, 3.5], "labels": false, "title": null, "grid": false, "tickSize": -3}},
          "y": {"field": "v", "type": "quantitative", "axis": {"orient": "right", "values": [-3.3, -3.1, -2.9, -2.7, -2.5, -2.3], "labels": false, "title": null, "grid": false, "tickSize": -3}},
          "detail": {"field": "c"}
         }}
       ]
      }
     ],
     "spacing": 53,
     "bounds": "flush",
     "resolve": {"scale": {"x": "independent", "y": "independent", "color": "independent", "shape": "independent", "stroke": "independent"}, "legend": {"color": "independent", "shape": "independent"}}
    }
   ]
  }
 ]
}
